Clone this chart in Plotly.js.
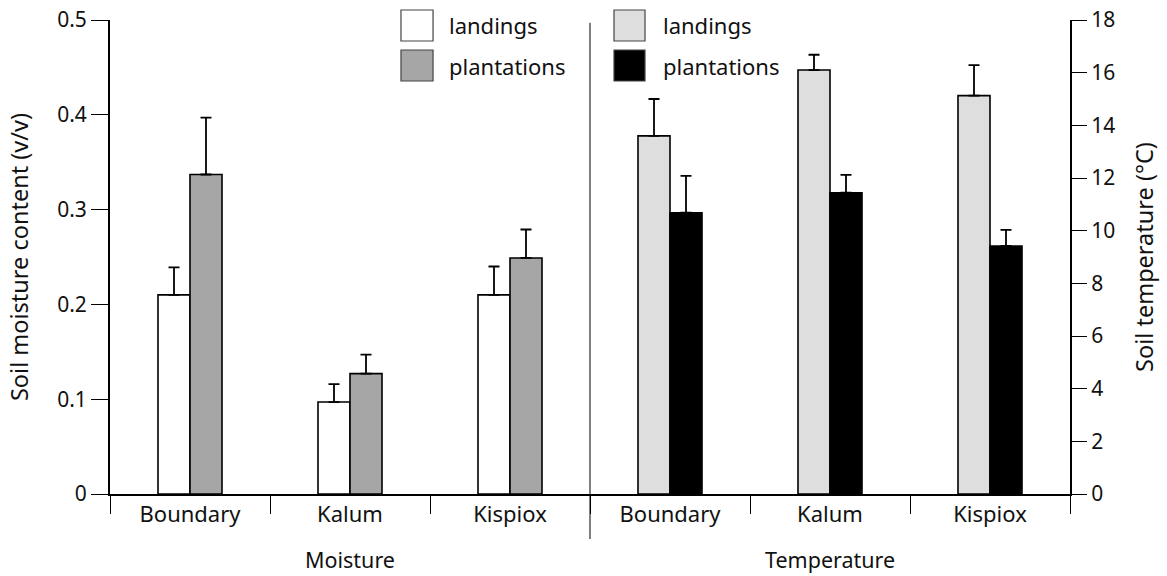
<!DOCTYPE html>
<html><head><meta charset="utf-8">
<script src="https://cdn.plot.ly/plotly-3.0.1.min.js"></script>
<style>html,body{margin:0;padding:0;background:#fff}#chart{width:1167px;height:576px}</style>
</head><body><div id="chart"></div>
<script>
// ---- data ----
const sites = ["Boundary", "Kalum", "Kispiox"];
const groups = ["Moisture", "Temperature"];
const seriesNames = ["landings", "plantations"];

const moistureLandings = [0.210, 0.097, 0.210];
const moistureLandingsErr = [0.029, 0.019, 0.030];
const moisturePlantations = [0.337, 0.127, 0.249];
const moisturePlantationsErr = [0.060, 0.020, 0.030];

const tempLandings = [13.6, 16.1, 15.13];
const tempLandingsErr = [1.4, 0.58, 1.16];
const tempPlantations = [10.68, 11.44, 9.42];
const tempPlantationsErr = [1.4, 0.68, 0.61];

const moistureTicks = [0, 0.1, 0.2, 0.3, 0.4, 0.5];
const tempTicks = [0, 2, 4, 6, 8, 10, 12, 14, 16, 18];

const moistureColors = ["#ffffff", "#a6a6a6"];
const tempColors = ["#dedede", "#000000"];

// ---- build ----
const FONT = "Noto Sans, Open Sans, sans-serif";
const xMoist = sites.map((s, i) => i);
const xTemp = sites.map((s, i) => i + sites.length);
const BW = 0.2;

function barTrace(x, y, err, color, yaxis, idx) {
  return {
    type: "bar", x: x, y: y, yaxis: yaxis,
    width: BW, offset: idx === 0 ? -BW : 0,
    marker: {color: color, line: {color: "#000", width: 1.6}},
    error_y: {type: "data", symmetric: false, array: err, arrayminus: err.map(() => 0),
              color: "#000", thickness: 1.8, width: 5.5},
    showlegend: false, hoverinfo: "skip"
  };
}

const data = [
  barTrace(xMoist, moistureLandings, moistureLandingsErr, moistureColors[0], "y", 0),
  barTrace(xMoist, moisturePlantations, moisturePlantationsErr, moistureColors[1], "y", 1),
  barTrace(xTemp, tempLandings, tempLandingsErr, tempColors[0], "y2", 0),
  barTrace(xTemp, tempPlantations, tempPlantationsErr, tempColors[1], "y2", 1)
];

const allX = xMoist.concat(xTemp);
const allText = sites.concat(sites);

// manual legends (two keyed blocks)
const shapes = [];
const annotations = [];
const legendBlocks = [
  {colors: moistureColors, x0: 0.3031, x1: 0.3365, tx: 0.351},
  {colors: tempColors, x0: 0.525, x1: 0.5573, tx: 0.5735}
];
const rowY = [[0.9557, 1.0211, 0.9884], [0.8713, 0.9367, 0.904]];
legendBlocks.forEach(b => {
  seriesNames.forEach((name, i) => {
    shapes.push({type: "rect", xref: "paper", yref: "paper",
      x0: b.x0, x1: b.x1, y0: rowY[i][0], y1: rowY[i][1],
      fillcolor: b.colors[i], line: {color: "#444", width: 1.2}});
    annotations.push({xref: "paper", yref: "paper", x: b.tx, y: rowY[i][2],
      xanchor: "left", yanchor: "middle", showarrow: false, text: name,
      font: {family: FONT, size: 22, color: "#111"}});
  });
});

// divider between the two groups
shapes.push({type: "line", xref: "x", yref: "paper",
  x0: sites.length - 0.5, x1: sites.length - 0.5, y0: -0.095, y1: 0.994,
  line: {color: "#000", width: 1}});

// group labels
groups.forEach((g, gi) => {
  annotations.push({xref: "x", yref: "paper", x: gi * sites.length + (sites.length - 1) / 2,
    y: -0.139, xanchor: "center", yanchor: "middle", showarrow: false, text: g,
    font: {family: FONT, size: 21.5, color: "#111"}});
});

const layout = {
  width: 1167, height: 576,
  margin: {l: 110, r: 97, t: 20, b: 82},
  paper_bgcolor: "#fff", plot_bgcolor: "#fff",
  font: {family: FONT, size: 20, color: "#111"},
  showlegend: false,
  bargap: 0,
  xaxis: {
    range: [-0.5, allX.length - 0.5], tickmode: "array", tickvals: allX, ticktext: allText,
    ticks: "", showgrid: false, zeroline: false, showline: true, linecolor: "#000", linewidth: 2,
    tickfont: {family: FONT, size: 22, color: "#111"},
    minor: {tick0: -0.5, dtick: 1, ticks: "outside", ticklen: 18, tickwidth: 1, tickcolor: "#000", showgrid: false},
    fixedrange: true
  },
  yaxis: {
    range: [0, 0.5], tickmode: "array", tickvals: moistureTicks,
    ticks: "outside", ticklen: 17, tickwidth: 1, tickcolor: "#000",
    showgrid: false, zeroline: false, showline: true, linecolor: "#000", linewidth: 2,
    tickfont: {family: FONT, size: 21, color: "#111"},
    title: {text: "Soil moisture content (v/v)", font: {family: FONT, size: 23.5, color: "#111"}, standoff: 22}
  },
  yaxis2: {
    overlaying: "y", side: "right",
    range: [0, 18], tickmode: "array", tickvals: tempTicks,
    ticks: "outside", ticklen: 15, tickwidth: 1, tickcolor: "#000",
    showgrid: false, zeroline: false, showline: true, linecolor: "#000", linewidth: 2,
    tickfont: {family: FONT, size: 21, color: "#111"},
    title: {text: "Soil temperature (°C)", font: {family: FONT, size: 23.5, color: "#111"}, standoff: 22}
  },
  shapes: shapes,
  annotations: annotations
};

Plotly.newPlot("chart", data, layout, {displayModeBar: false, staticPlot: true});
</script>
</body></html>
